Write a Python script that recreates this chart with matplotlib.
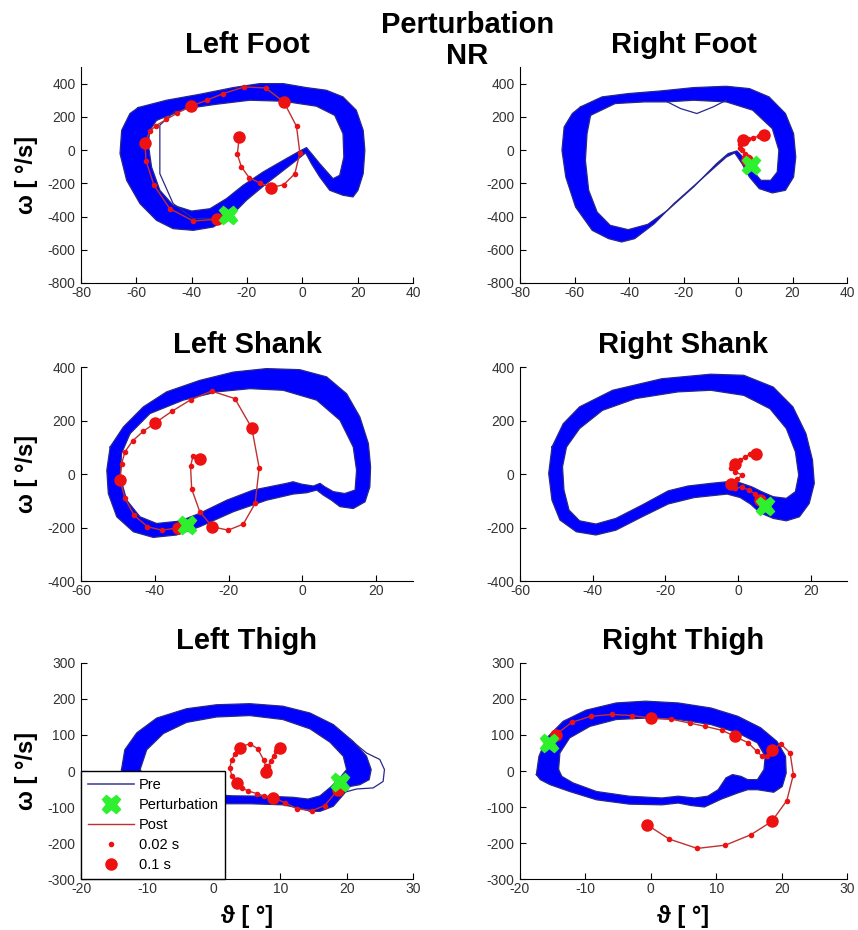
import matplotlib
matplotlib.use("Agg")
import matplotlib.pyplot as plt
from matplotlib.path import Path
from matplotlib.patches import PathPatch
from matplotlib.lines import Line2D

plt.rcParams['font.family'] = ['Liberation Sans', 'DejaVu Sans']
plt.rcParams['axes.unicode_minus'] = False

# ---------------- data (theta [deg], omega [deg/s]) ----------------
# Left Foot
lfoot_outer = [(-59.3, 256), (-49.1, 300), (-37.0, 336), (-25.0, 376), (-15.4, 400), (-6.9, 400),
               (1.5, 376), (8.7, 360), (14.7, 320), (19.5, 240), (22.0, 119), (22.6, -1), (22.0, -142),
               (20.1, -242), (18.3, -282), (14.7, -272), (9.9, -242), (6.3, -162), (3.3, -82), (1.2, -17),
               (-4.5, -92), (-13.0, -202), (-20.2, -302), (-26.2, -403), (-32.2, -463), (-39.4, -483),
               (-46.7, -473), (-52.7, -423), (-58.7, -322), (-63.5, -182), (-65.9, -21), (-65.3, 119),
               (-62.3, 220)]
lfoot_inner = [(-52.7, 179), (-41.8, 250), (-31.0, 276), (-19.0, 300), (-6.9, 294), (5.1, 264),
               (11.7, 209), (14.7, 99), (15.0, -42), (13.5, -152), (11.1, -172), (6.3, -82), (3.3, -21),
               (1.5, 15), (-1.5, -11), (-6.9, -62), (-14.2, -132), (-21.4, -212), (-27.4, -292),
               (-33.4, -353), (-40.0, -367), (-46.7, -332), (-51.5, -242), (-54.5, -102), (-55.7, 39),
               (-55.1, 119)]
lfoot_stray = [(-46.0, 235), (-51.5, 150), (-51.5, 99), (-51.5, -142), (-46.7, -322), (-39.4, -413),
               (-30.0, -410)]
lfoot_post = [(-31.0, -417), (-39.4, -427), (-47.9, -353), (-53.6, -212), (-56.5, -66), (-56.9, 43),
              (-55.1, 113), (-52.9, 147), (-49.1, 185), (-45.2, 223), (-40.4, 263), (-34.6, 300),
              (-28.6, 340), (-21.0, 380), (-13.3, 374), (-6.7, 290), (-2.1, 143), (-0.9, -17),
              (-2.7, -142), (-6.7, -208), (-11.2, -226), (-15.4, -198), (-19.2, -166), (-22.0, -102),
              (-23.5, -25), (-22.8, 79)]
lfoot_pert = (-27.0, -393)

# Right Foot
rfoot_outer = [(-57.8, 260), (-49.9, 320), (-40.3, 340), (-28.3, 356), (-16.3, 376), (-4.3, 384),
               (4.2, 370), (11.4, 320), (17.4, 220), (20.4, 99), (21.2, -42), (20.4, -162), (17.4, -242),
               (12.6, -258), (7.8, -232), (4.2, -162), (1.5, -82), (-1.2, -17), (-4.3, -42), (-13.9, -182),
               (-23.5, -322), (-30.7, -443), (-37.9, -533), (-42.7, -553), (-47.5, -533), (-53.5, -483),
               (-59.6, -343), (-63.2, -162), (-64.6, -1), (-63.8, 139), (-60.8, 220)]
rfoot_inner = [(-54.1, 209), (-45.1, 280), (-34.3, 290), (-25.9, 290), (-16.3, 300), (-4.3, 290),
               (5.4, 240), (12.6, 129), (15.0, -1), (14.4, -132), (12.0, -182), (8.4, -182), (4.8, -112),
               (1.8, -42), (-0.4, -5), (-3.6, -21), (-7.9, -82), (-16.3, -222), (-25.9, -363),
               (-33.1, -447), (-40.3, -479), (-46.9, -453), (-51.7, -373), (-54.8, -242), (-56.0, -62),
               (-55.4, 99)]
rfoot_stray = [(-25.9, 290), (-21.1, 250), (-15.1, 220), (-9.1, 260), (-4.3, 300)]
rfoot_post = [(3.2, -58), (2.4, -25), (1.5, -1), (0.6, 13), (0.8, 39), (1.8, 59), (3.6, 69),
              (5.6, 75), (7.6, 83), (9.0, 95), (9.6, 89)]
rfoot_pert = (4.8, -92)

# Left Shank
lshank_outer = [(-52.1, 101), (-48.5, 176), (-43.1, 251), (-36.8, 307), (-27.8, 350), (-18.7, 381),
                (-9.7, 394), (-0.7, 390), (6.6, 363), (12.0, 300), (15.6, 213), (17.9, 114), (18.5, 27),
                (18.3, -48), (17.0, -104), (13.8, -129), (10.2, -122), (7.9, -98), (5.7, -79), (3.9, -60),
                (1.2, -70), (-2.5, -75), (-9.7, -98), (-18.7, -141), (-27.8, -197), (-34.1, -228),
                (-40.4, -237), (-45.8, -216), (-50.3, -160), (-52.6, -73), (-53.0, 14)]
lshank_inner = [(-46.7, 151), (-41.3, 226), (-32.3, 276), (-23.2, 307), (-14.2, 319), (-5.2, 313),
                (3.9, 276), (10.2, 201), (13.8, 101), (14.7, 14), (14.3, -60), (11.5, -73), (8.4, -66),
                (6.1, -48), (4.8, -35), (3.0, -45), (-0.2, -38), (-2.5, -29), (-4.3, -35), (-13.3, -60),
                (-20.5, -98), (-27.8, -147), (-33.2, -176), (-39.5, -185), (-44.0, -160), (-47.6, -98),
                (-49.4, -10), (-49.0, 77)]
lshank_post = [(-33.6, -201), (-38.0, -210), (-42.0, -197), (-45.6, -154), (-48.1, -91), (-49.4, -23),
               (-49.0, 37), (-48.1, 83), (-46.0, 124), (-43.1, 160), (-39.9, 191), (-35.4, 234),
               (-30.2, 278), (-24.6, 310), (-18.3, 282), (-13.7, 172), (-11.7, 23), (-12.8, -110),
               (-16.0, -187), (-20.1, -210), (-24.4, -197), (-27.8, -141), (-30.0, -56), (-30.3, 29),
               (-29.6, 69), (-27.8, 55)]
lshank_pert = (-31.4, -191)

# Right Shank
rshank_outer = [(-51.2, 101), (-48.1, 188), (-43.6, 251), (-34.5, 313), (-21.0, 356), (-7.5, 373),
                (1.6, 369), (9.7, 325), (15.1, 251), (18.7, 151), (20.5, 52), (21.0, -35), (19.6, -110),
                (16.9, -160), (13.3, -175), (9.7, -166), (6.1, -145), (3.4, -112), (0.6, -88), (-3.0, -75),
                (-12.0, -88), (-19.2, -112), (-26.4, -160), (-33.6, -210), (-39.1, -228), (-44.5, -216),
                (-49.0, -172), (-51.2, -98), (-52.1, 2)]
rshank_inner = [(-47.2, 101), (-43.6, 170), (-37.3, 238), (-28.2, 282), (-16.5, 307), (-7.5, 313),
                (1.6, 294), (8.8, 244), (13.3, 170), (15.8, 83), (16.7, -4), (15.8, -66), (13.3, -91),
                (9.7, -85), (6.5, -66), (3.8, -48), (0.6, -33), (-3.0, -29), (-7.5, -35), (-13.8, -45),
                (-19.2, -63), (-26.4, -116), (-33.6, -166), (-39.1, -187), (-43.6, -175), (-46.5, -135),
                (-47.9, -60), (-48.3, 27)]
rshank_post = [(6.1, -98), (4.7, -75), (2.9, -60), (1.1, -48), (-0.7, -54), (-1.9, -38), (-0.3, -20),
               (1.1, -4), (-0.7, 8), (-1.9, 21), (-0.7, 37), (0.6, 52), (2.0, 64), (3.2, 74), (4.3, 79),
               (5.0, 74)]
rshank_pert = (7.4, -120)

# Left Thigh
lthigh_outer = [(-13.9, 4), (-13.4, 59), (-11.6, 106), (-8.6, 147), (-4.1, 173), (0.4, 184), (5.4, 187),
                (10.4, 180), (14.5, 161), (18.0, 129), (21.0, 82), (23.0, 41), (23.7, 4), (23.4, -24),
                (22.0, -38), (20.5, -43), (19.5, -66), (18.0, -98), (16.0, -112), (14.5, -112),
                (12.9, -103), (10.4, -94), (5.4, -91), (0.4, -91), (-4.6, -94), (-9.6, -89),
                (-12.6, -66), (-14.0, -29)]
lthigh_inner = [(-11.1, 4), (-10.1, 59), (-7.6, 104), (-4.1, 135), (0.4, 150), (5.4, 154), (10.4, 143),
                (14.5, 117), (17.5, 80), (19.5, 41), (20.0, 4), (19.0, -19), (17.7, -43), (16.0, -69),
                (14.2, -78), (11.9, -73), (7.9, -70), (2.9, -69), (-2.1, -64), (-7.1, -52), (-9.9, -29)]
lthigh_stray = [(20.5, 88), (23.0, 50), (25.0, 32), (25.7, 4), (25.5, -29), (24.0, -47), (21.5, -50),
                (19.5, -60)]
lthigh_post = [(18.7, -52), (16.7, -96), (14.8, -110), (12.5, -105), (10.7, -88), (8.9, -74),
               (7.5, -69), (6.5, -63), (5.1, -55), (4.2, -46), (3.5, -33), (2.7, -13), (2.4, 9),
               (2.7, 31), (3.2, 48), (3.9, 65), (5.4, 76), (6.6, 62), (7.5, 31), (7.8, 15), (7.8, -2),
               (8.2, 14), (8.6, 28), (9.0, 42), (9.4, 56), (9.9, 65)]
lthigh_pert = (19.0, -30)

# Right Thigh
rthigh_outer = [(-17.5, -10), (-17.1, 41), (-15.9, 92), (-13.4, 138), (-9.9, 169), (-5.3, 189),
                (-0.8, 194), (4.2, 189), (9.2, 175), (13.3, 152), (16.8, 120), (19.3, 82), (20.6, 41),
                (20.7, -6), (20.1, -43), (18.8, -59), (16.3, -52), (14.8, -52), (13.3, -61), (10.8, -78),
                (8.2, -100), (6.2, -96), (4.2, -89), (1.7, -94), (-3.3, -92), (-8.3, -80), (-12.4, -57),
                (-15.4, -38), (-16.9, -24)]
rthigh_inner = [(-14.1, 4), (-13.9, 50), (-12.4, 92), (-9.3, 124), (-5.3, 143), (-0.8, 147), (4.2, 143),
                (9.2, 129), (13.3, 106), (16.3, 78), (17.5, 41), (17.3, 4), (16.3, -24), (14.8, -24),
                (13.8, -15), (12.5, -10), (11.5, -19), (10.3, -52), (8.7, -70), (6.7, -75), (4.2, -70),
                (1.7, -75), (-3.3, -70), (-8.3, -57), (-11.9, -33), (-13.6, -15)]
rthigh_post = [(-14.5, 101), (-12.1, 135), (-9.2, 152), (-5.9, 157), (-2.9, 154), (0.1, 147), (3.1, 144),
               (6.0, 133), (8.3, 124), (10.9, 113), (12.9, 96), (14.9, 78), (16.2, 55), (17.0, 41),
               (17.8, 41), (18.5, 59), (19.9, 75), (21.3, 50), (21.8, -10), (20.8, -82), (18.5, -140),
               (15.3, -177), (11.4, -206), (7.1, -215), (2.8, -189), (-0.6, -149)]
rthigh_pert = (-15.5, 78)

titles = ['Left Foot', 'Right Foot', 'Left Shank', 'Right Shank', 'Left Thigh', 'Right Thigh']
legend_labels = ['Pre', 'Perturbation', 'Post', '0.02 s', '0.1 s']

BAND = '#0000ff'
EDGE = '#28288c'
RED = '#ee1111'
REDLINE = '#c03030'
GREEN = '#2ef02e'


def draw_band(ax, outer, inner):
    # band between outer and inner traced edges (inner reversed to make a hole)
    inner_rev = inner[::-1]
    verts = outer + [outer[0]] + inner_rev + [inner_rev[0]]
    codes = ([Path.MOVETO] + [Path.LINETO] * (len(outer) - 1) + [Path.CLOSEPOLY] +
             [Path.MOVETO] + [Path.LINETO] * (len(inner_rev) - 1) + [Path.CLOSEPOLY])
    ax.add_patch(PathPatch(Path(verts, codes), facecolor=BAND, edgecolor='none', zorder=1))
    for edge in (outer, inner):
        xs = [p[0] for p in edge] + [edge[0][0]]
        ys = [p[1] for p in edge] + [edge[0][1]]
        ax.plot(xs, ys, color=EDGE, lw=0.9, zorder=2, solid_joinstyle='round')


def draw_panel(ax, title, outer, inner, post, pert, stray=None):
    draw_band(ax, outer, inner)
    if stray is not None:
        ax.plot([p[0] for p in stray], [p[1] for p in stray], color=EDGE, lw=0.9, zorder=2)
    px = [p[0] for p in post]
    py = [p[1] for p in post]
    ax.plot(px, py, color=REDLINE, lw=1.0, zorder=3)
    ax.plot(px, py, 'o', color=RED, ms=4, mec='none', zorder=4)
    ax.plot(px[::5], py[::5], 'o', color=RED, ms=9, mec='none', zorder=5)
    ax.plot(pert[0], pert[1], 'X', color=GREEN, ms=13, mec=GREEN, zorder=6)
    ax.set_title(title, fontsize=21, fontweight='bold', pad=10)
    for s in ('top', 'right'):
        ax.spines[s].set_visible(False)
    ax.tick_params(direction='in', length=4, width=0.8, labelsize=10, labelcolor='#333333')
    ax.tick_params(axis='x', pad=2)
    ax.tick_params(axis='y', pad=4)


fig = plt.figure(figsize=(8.58, 9.30), dpi=100)

col_x = [81 / 858, 520 / 858]
col_w = [332 / 858, 327 / 858]
row_y = [1 - 283 / 930, 1 - 581 / 930, 1 - 879 / 930]
row_h = [216 / 930, 214 / 930, 216 / 930]

panels = [
    (lfoot_outer, lfoot_inner, lfoot_post, lfoot_pert, lfoot_stray),
    (rfoot_outer, rfoot_inner, rfoot_post, rfoot_pert, rfoot_stray),
    (lshank_outer, lshank_inner, lshank_post, lshank_pert, None),
    (rshank_outer, rshank_inner, rshank_post, rshank_pert, None),
    (lthigh_outer, lthigh_inner, lthigh_post, lthigh_pert, lthigh_stray),
    (rthigh_outer, rthigh_inner, rthigh_post, rthigh_pert, None),
]
xlims = [(-80, 40), (-60, 30), (-20, 30)]
xticks = [range(-80, 41, 20), range(-60, 21, 20), range(-20, 31, 10)]
ylims = [(-800, 500), (-400, 400), (-300, 300)]
yticks = [range(-800, 401, 200), range(-400, 401, 200), range(-300, 301, 100)]

axes = []
for i, (outer, inner, post, pert, stray) in enumerate(panels):
    r, c = divmod(i, 2)
    ax = fig.add_axes([col_x[c], row_y[r], col_w[c], row_h[r]])
    draw_panel(ax, titles[i], outer, inner, post, pert, stray)
    ax.set_xlim(*xlims[r])
    ax.set_ylim(*ylims[r])
    ax.set_xticks(list(xticks[r]))
    ax.set_yticks(list(yticks[r]))
    if c == 0:
        ax.set_ylabel('ω [ °/s]', fontsize=17, fontweight='bold')
        ax.yaxis.set_label_coords(-0.13, 0.5)
    if r == 2:
        ax.set_xlabel('ϑ [ °]', fontsize=17, fontweight='bold')
        ax.xaxis.set_label_coords(0.5, -0.12)
    axes.append(ax)

# legend in Left Thigh panel
handles = [
    Line2D([], [], color='#4848a0', lw=1.2),
    Line2D([], [], marker='X', ls='none', color=GREEN, ms=13),
    Line2D([], [], color=REDLINE, lw=1.0),
    Line2D([], [], marker='o', ls='none', color=RED, ms=4, mec='none'),
    Line2D([], [], marker='o', ls='none', color=RED, ms=9, mec='none'),
]
leg = axes[4].legend(handles, legend_labels, loc='lower left', bbox_to_anchor=(0, 0),
                     borderaxespad=0, fontsize=10.5, fancybox=False, framealpha=1,
                     edgecolor='black', handlelength=3.2, handletextpad=0.3,
                     labelspacing=0.42, borderpad=0.45)
leg.get_frame().set_linewidth(1.0)
leg.set_zorder(10)

fig.text(0.545, 1 - 11 / 930, 'Perturbation\nNR', ha='center', va='top',
         fontsize=21, fontweight='bold', linespacing=1.15)

fig.savefig('out.png', dpi=100, facecolor='white')
